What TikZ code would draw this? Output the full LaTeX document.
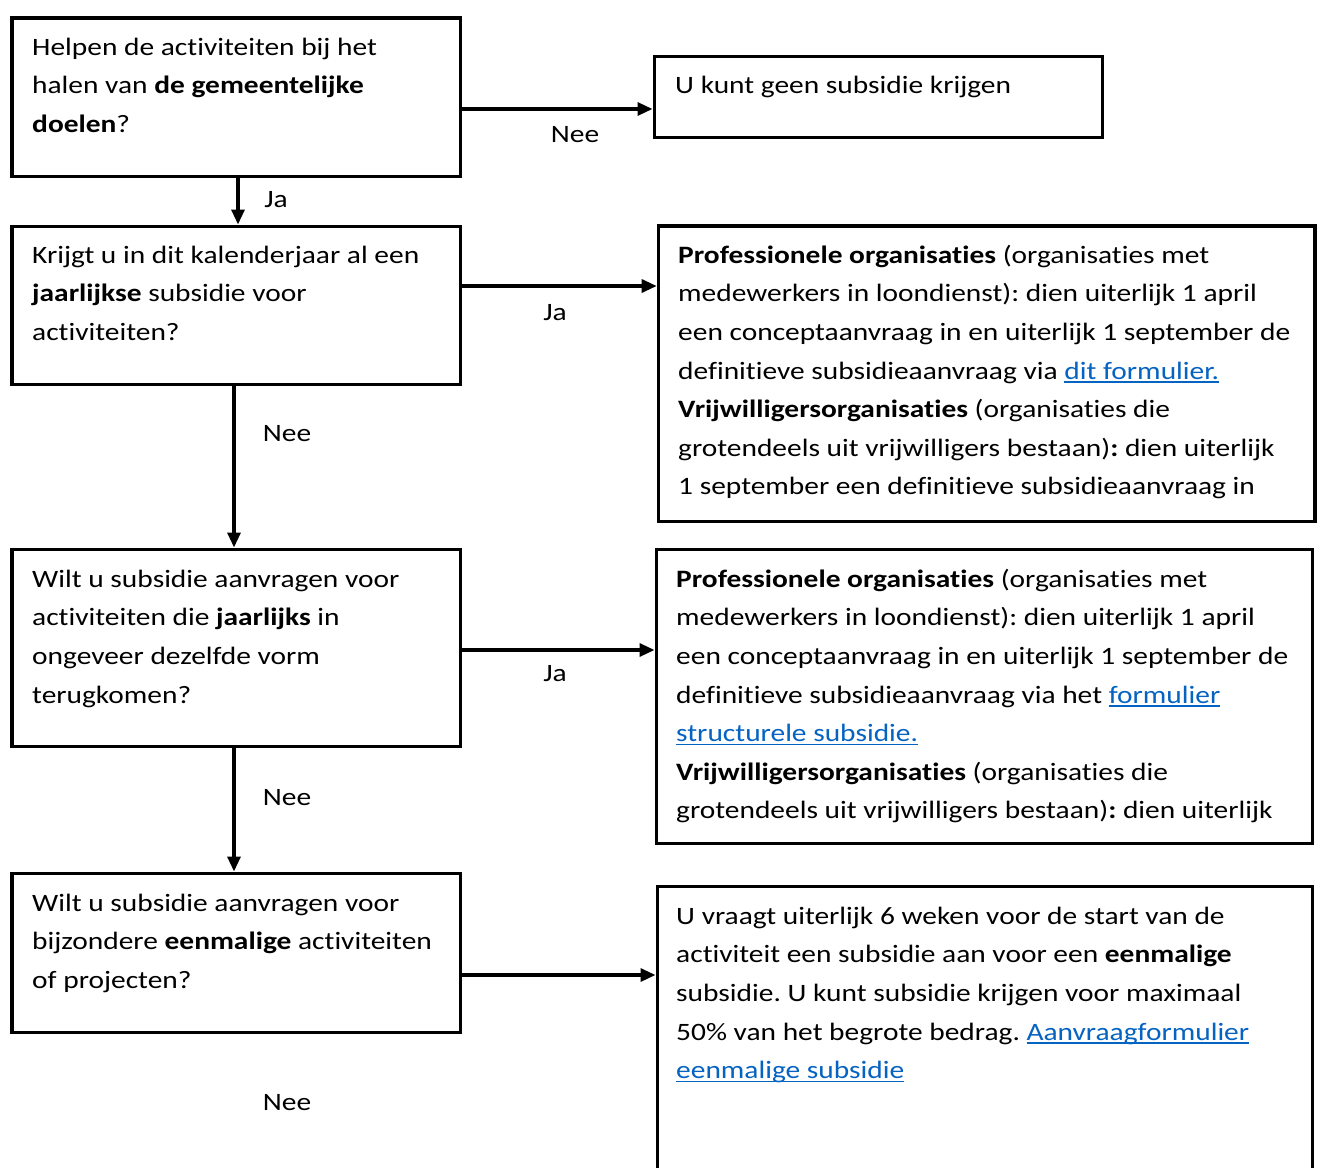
\documentclass[tikz,border=0pt]{standalone}
\usepackage{fontspec}
\setmainfont{Carlito}[FakeStretch=1.177, Ligatures=NoCommon]
\usetikzlibrary{arrows.meta}
\definecolor{linkblue}{HTML}{0563C1}
\frenchspacing
\newsavebox{\lnkbox}
\newcommand{\lnk}[1]{{\color{linkblue}\sbox{\lnkbox}{#1}\rlap{\rule[-3.5pt]{\wd\lnkbox}{1.6pt}}\usebox{\lnkbox}}}
\newcommand{\firstln}{\rule{0pt}{20pt}}
\newcommand{\mkbox}[5]{\node[flowbox, minimum width={#4-#2}, minimum height={#5-#3}] (#1) at (#2,#3) {};}
\begin{document}
\begin{tikzpicture}[x=1pt,y=-1pt,
  flowbox/.style={draw, line width=3.5pt, rectangle, inner sep=0pt, anchor=north west},
  txt/.style={anchor=north west, inner sep=0pt, align=left, font=\fontsize{25}{38.6}\selectfont\frenchspacing},
  lbl/.style={anchor=base, inner sep=0pt, font=\fontsize{25}{30}\selectfont},
  arr/.style={line width=3.2pt, -{Triangle[length=15pt,width=13pt]}}]
\useasboundingbox (0,0) rectangle (1319,1167);
\clip (0,0) rectangle (1319,1167);
\fill[white] (0,0) rectangle (1319,1167);
% boxes
\mkbox{b1}{10.2}{16}{458.5}{174.5}
\mkbox{b2}{652.5}{54.5}{1100.5}{135.5}
\mkbox{b3}{10.2}{224.5}{458.5}{382.5}
\mkbox{b4}{656.7}{224.2}{1313}{519.5}
\mkbox{b5}{10.2}{547.5}{458.5}{744.5}
\mkbox{b6}{654.5}{547.5}{1310.5}{841.5}
\mkbox{b7}{10.2}{871.5}{458.5}{1030.5}
\mkbox{b8}{655.5}{884.5}{1310.5}{1200}
% texts
\node[txt] (t1) at (32,35) {\firstln Helpen de activiteiten bij het\\halen van \textbf{de gemeentelijke}\\\textbf{doelen}?};
\node[txt] (t2) at (675,73) {\firstln U kunt geen subsidie krijgen};
\node[txt] (t3) at (32,243) {\firstln Krijgt u in dit kalenderjaar al een\\\textbf{jaarlijkse} subsidie voor\\activiteiten?};
\node[txt] (t4) at (678,243) {\firstln\textbf{Professionele organisaties} (organisaties met\\medewerkers in loondienst): dien uiterlijk 1 april\\een conceptaanvraag in en uiterlijk 1 september de\\definitieve subsidieaanvraag via \lnk{dit formulier.}\\\textbf{Vrijwilligersorganisaties} (organisaties die\\grotendeels uit vrijwilligers bestaan)\textbf{:} dien uiterlijk\\1 september een definitieve subsidieaanvraag in};
\node[txt] (t5) at (32,567) {\firstln Wilt u subsidie aanvragen voor\\activiteiten die \textbf{jaarlijks} in\\ongeveer dezelfde vorm\\terugkomen?};
\node[txt] (t6) at (676,567) {\firstln\textbf{Professionele organisaties} (organisaties met\\medewerkers in loondienst): dien uiterlijk 1 april\\een conceptaanvraag in en uiterlijk 1 september de\\definitieve subsidieaanvraag via het \lnk{formulier}\\\lnk{structurele subsidie.}\\\textbf{Vrijwilligersorganisaties} (organisaties die\\grotendeels uit vrijwilligers bestaan)\textbf{:} dien uiterlijk};
\node[txt] (t7) at (32,891) {\firstln Wilt u subsidie aanvragen voor\\bijzondere \textbf{eenmalige} activiteiten\\of projecten?};
\node[txt] (t8) at (676,904) {\firstln U vraagt uiterlijk 6 weken voor de start van de\\activiteit een subsidie aan voor een \textbf{eenmalige}\\subsidie. U kunt subsidie krijgen voor maximaal\\50\% van het begrote bedrag. \lnk{Aanvraagformulier}\\\lnk{eenmalige subsidie}};
% connectors
\draw[arr] (b1.east |- 0,109) -- (b2.west |- 0,109);
\draw[arr] (238,0 |- b1.south) -- (238,0 |- b3.north);
\draw[arr] (b3.east |- 0,286) -- (b4.west |- 0,286);
\draw[arr] (234,0 |- b3.south) -- (234,0 |- b5.north);
\draw[arr] (b5.east |- 0,650) -- (b6.west |- 0,650);
\draw[arr] (234,0 |- b5.south) -- (234,0 |- b7.north);
\draw[arr] (b7.east |- 0,975) -- (b8.west |- 0,975);
% labels
\node[lbl] (l1) at (575,142) {Nee};
\node[lbl] (l2) at (276,207) {Ja};
\node[lbl] (l3) at (555,320) {Ja};
\node[lbl] (l4) at (287,441) {Nee};
\node[lbl] (l5) at (555,681) {Ja};
\node[lbl] (l6) at (287,805) {Nee};
\node[lbl] (l7) at (287,1110) {Nee};
\end{tikzpicture}
\end{document}
